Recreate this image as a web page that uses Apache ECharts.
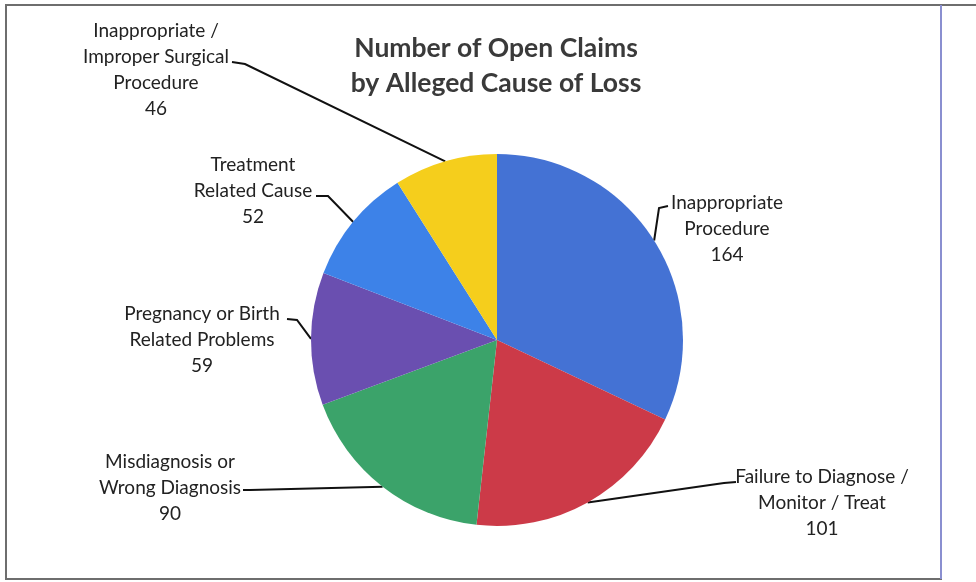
<!DOCTYPE html>
<html>
<head>
<meta charset="utf-8">
<script src="https://cdn.jsdelivr.net/npm/echarts@6/dist/echarts.min.js"></script>
<style>
  html, body { margin: 0; padding: 0; background: #ffffff; }
  #chart { width: 976px; height: 582px; }
</style>
</head>
<body>
<div id="chart"></div>
<script>
// Open claims grouped by alleged cause of loss
const causes = [
  'Inappropriate\nProcedure',
  'Failure to Diagnose /\nMonitor / Treat',
  'Misdiagnosis or\nWrong Diagnosis',
  'Pregnancy or Birth\nRelated Problems',
  'Treatment\nRelated Cause',
  'Inappropriate /\nImproper Surgical\nProcedure'
];
const claimCounts = [164, 101, 90, 59, 52, 46];
const sliceColors = ['#4472D4', '#CC3A48', '#3BA36A', '#6A4FB0', '#3D82E8', '#F5CE1C'];

// Label block placement (top-centre of the text) and the leader line's
// elbow / end point next to the text, by slice index
const labelSpots = [
  { x: 727, y: 190, elbow: [659, 208], end: [668, 206] },
  { x: 822, y: 464, elbow: [724, 483], end: [736, 482] },
  { x: 170, y: 449, elbow: [250, 490], end: [243, 490] },
  { x: 202, y: 301, elbow: [297, 320], end: [287, 319] },
  { x: 253, y: 152, elbow: [328, 196], end: [316, 196] },
  { x: 156, y: 18,  elbow: [245, 64],  end: [232, 62] }
];

const PIE_CENTER = [497, 340];
const PIE_RADIUS = 186;

// Mid-angle point on the rim of a slice, used when the library gives no default line
function rimPoint(index) {
  const total = claimCounts.reduce((a, b) => a + b, 0);
  let before = 0;
  for (let i = 0; i < index; i++) before += claimCounts[i];
  const mid = (before + claimCounts[index] / 2) / total * Math.PI * 2;
  return [PIE_CENTER[0] + PIE_RADIUS * Math.sin(mid), PIE_CENTER[1] - PIE_RADIUS * Math.cos(mid)];
}

const chart = echarts.init(document.getElementById('chart'), null, { renderer: 'canvas' });

const pieData = causes.map((name, i) => ({
  name: name,
  value: claimCounts[i],
  itemStyle: { color: sliceColors[i] }
}));

chart.setOption({
  backgroundColor: '#ffffff',
  animation: false,
  title: {
    text: 'Number of Open Claims\nby Alleged Cause of Loss',
    left: 491,
    top: 26,
    textAlign: 'center',
    textStyle: {
      fontFamily: 'Lato',
      fontSize: 26.5,
      fontWeight: 'bold',
      color: '#3a3a3a',
      lineHeight: 35
    }
  },
  graphic: [
    {
      type: 'rect',
      shape: { x: 6, y: 5, width: 935, height: 574 },
      style: { fill: 'none', stroke: '#6e6e6e', lineWidth: 2 },
      silent: true
    },
    {
      type: 'line',
      shape: { x1: 941, y1: 5, x2: 976, y2: 5 },
      style: { stroke: '#6e6e6e', lineWidth: 2 },
      silent: true
    },
    {
      type: 'line',
      shape: { x1: 941, y1: 5, x2: 941, y2: 579 },
      style: { stroke: '#8a8fd0', lineWidth: 2 },
      silent: true
    }
  ],
  series: [{
    type: 'pie',
    center: PIE_CENTER,
    radius: PIE_RADIUS,
    startAngle: 90,
    clockwise: true,
    data: pieData,
    label: {
      show: true,
      formatter: '{b}\n{c}',
      fontFamily: 'Lato',
      fontSize: 19,
      lineHeight: 26,
      color: '#222222',
      align: 'center'
    },
    labelLine: {
      show: true,
      lineStyle: { color: '#111111', width: 2 }
    },
    labelLayout: function (params) {
      const spot = labelSpots[params.dataIndex];
      const start = (params.labelLinePoints && params.labelLinePoints[0])
        ? params.labelLinePoints[0]
        : rimPoint(params.dataIndex);
      return {
        x: spot.x,
        y: spot.y,
        align: 'center',
        verticalAlign: 'top',
        labelLinePoints: [start, spot.elbow, spot.end]
      };
    }
  }]
});
</script>
</body>
</html>
